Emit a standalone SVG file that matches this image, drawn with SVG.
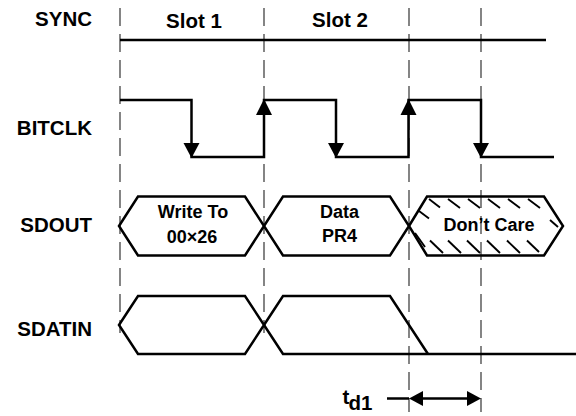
<svg xmlns="http://www.w3.org/2000/svg" width="576" height="416" viewBox="0 0 576 416">
<style>
.lbl{font-family:"Liberation Sans",Arial,sans-serif;font-weight:bold;font-size:20.5px;fill:#000}
.in{font-family:"Liberation Sans",Arial,sans-serif;font-weight:bold;font-size:18px;fill:#000;text-anchor:middle}
.sig{fill:none;stroke:#000;stroke-width:2.5;stroke-linejoin:miter}
.dash{fill:none;stroke:#444;stroke-width:1.3;stroke-dasharray:18 8}
.hatch{stroke:#000;stroke-width:1.9;stroke-linecap:butt}
.head{fill:#000}
</style>
<rect width="576" height="416" fill="#fff"/>
<g id="guides">
<line class="dash" x1="120" y1="8" x2="120" y2="333"/>
<line class="dash" x1="264" y1="8" x2="264" y2="333"/>
<line class="dash" x1="409" y1="8" x2="409" y2="412"/>
<line class="dash" x1="481" y1="8" x2="481" y2="412"/>
</g>
<g id="labels">
<text class="lbl" x="92" y="25.5" text-anchor="end">SYNC</text>
<text class="lbl" x="92" y="135" text-anchor="end">BITCLK</text>
<text class="lbl" x="92" y="232.3" text-anchor="end">SDOUT</text>
<text class="lbl" x="92" y="335.5" text-anchor="end">SDATIN</text>
<text class="lbl" x="194" y="28.3" text-anchor="middle">Slot 1</text>
<text class="lbl" x="340" y="27.3" text-anchor="middle">Slot 2</text>
</g>
<g id="sync">
<line class="sig" x1="120" y1="40" x2="546" y2="40"/>
</g>
<g id="bitclk">
<path class="sig" d="M120,100 H191.5 V157 H264 V100 H336 V157 H408.5 V100 H481 V157 H554"/>
<polygon class="head" points="183.5,143 199.5,143 191.5,158"/>
<polygon class="head" points="256,115 272,115 264,99"/>
<polygon class="head" points="328,143 344,143 336,158"/>
<polygon class="head" points="400.5,115 416.5,115 408.5,99"/>
<polygon class="head" points="473,143 489,143 481,158"/>
</g>
<g id="sdout">
<polygon class="sig" points="119,226 138,196.5 245,196.5 264,226 245,255.5 138,255.5"/>
<polygon class="sig" points="264,226 283,196.5 390,196.5 409,226 390,255.5 283,255.5"/>
<g id="dontcare-hatch">
<line class="hatch" x1="429" y1="199" x2="440" y2="207.5"/>
<line class="hatch" x1="448" y1="199" x2="460" y2="208"/>
<line class="hatch" x1="468" y1="199" x2="480" y2="208"/>
<line class="hatch" x1="488" y1="199" x2="500" y2="208"/>
<line class="hatch" x1="508" y1="199" x2="520" y2="208"/>
<line class="hatch" x1="528" y1="199" x2="540" y2="208"/>
<line class="hatch" x1="419" y1="211" x2="429" y2="218.5"/>
<line class="hatch" x1="550" y1="220" x2="558" y2="227"/>
<line class="hatch" x1="415" y1="233" x2="425" y2="247"/>
<line class="hatch" x1="430" y1="240.5" x2="443" y2="253"/>
<line class="hatch" x1="448" y1="240.5" x2="461" y2="253"/>
<line class="hatch" x1="467" y1="240.5" x2="480" y2="253"/>
<line class="hatch" x1="487" y1="240.5" x2="500" y2="253"/>
<line class="hatch" x1="507" y1="240.5" x2="520" y2="253"/>
<line class="hatch" x1="527" y1="240.5" x2="539" y2="252"/>
</g>
<polygon class="sig" points="409,226 427,196.5 544,196.5 563,226 544,255.5 427,255.5"/>
<text class="in" x="193" y="217.7">Write To</text>
<text class="in" x="192" y="242.7">00×26</text>
<text class="in" x="339.5" y="217.7">Data</text>
<text class="in" x="339.5" y="242.3">PR4</text>
<text class="in" x="489" y="230.5">Don’t Care</text>
</g>
<g id="sdatin">
<polygon class="sig" points="119,325 138,296 245,296 264,325 245,354 138,354"/>
<path class="sig" d="M264,325 L283,296 H390 L428,354"/>
<path class="sig" d="M264,325 L283,354 H576"/>
</g>
<g id="td1">
<text class="lbl" x="342.5" y="403.5" font-size="20">t</text>
<text class="lbl" x="348.5" y="410" font-size="21">d1</text>
<line class="sig" x1="387" y1="398.5" x2="409" y2="398.5" stroke-width="1.8"/>
<line class="sig" x1="420" y1="398.5" x2="470" y2="398.5" stroke-width="1.8"/>
<polygon class="head" points="409,398.5 423,391 423,406"/>
<polygon class="head" points="481,398.5 467,391 467,406"/>
</g>
</svg>
